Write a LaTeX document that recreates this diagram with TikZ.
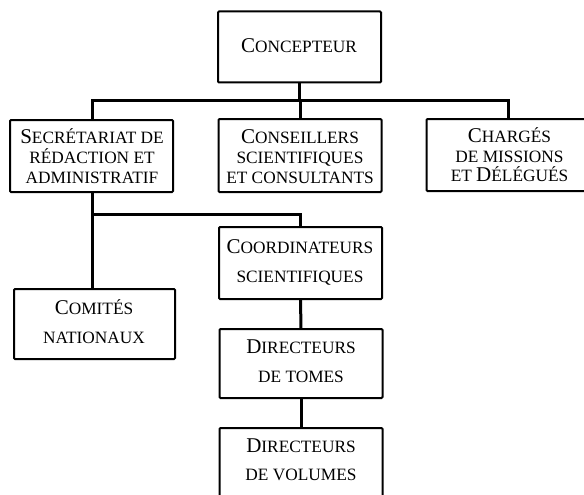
\documentclass[tikz,border=0pt]{standalone}
\usepackage{fontspec}
\setmainfont{Liberation Serif}
\newcommand\Bc[1]{{\fontsize{21}{20}\selectfont #1}}
\tikzset{
  box/.style={draw, line width=2pt, rounded corners=1pt, minimum width=163pt, minimum height=71pt, inner sep=0pt, outer sep=0pt},
  txt/.style={anchor=base, inner sep=0pt, font=\fontsize{17.3}{20}\selectfont},
  link/.style={line width=3pt},
}
\begin{document}
\begin{tikzpicture}[x=1pt,y=-1pt]
\useasboundingbox (0,0) rectangle (584,495);
\clip (0,0) rectangle (584,495);
\fill[white] (0,0) rectangle (584,495);

% boxes
\node[box] (concepteur) at (299.5,47) {};
\node[box, minimum height=72pt] (secr) at (91.5,156) {};
\node[box, minimum height=73pt] (cons) at (300,155.5) {};
\node[box, minimum height=72pt] (charg) at (508,155) {};
\node[box, minimum height=72pt] (coord) at (300.5,263) {};
\node[box, minimum width=161pt, minimum height=70pt] (comites) at (94.5,324) {};
\node[box, minimum height=69pt] (tomes) at (301,363.5) {};
\node[box, minimum height=70pt] (volumes) at (301,463) {};

% texts
\node[txt] (t-conc) at (299,53) {\Bc{C}ONCEPTEUR};
\node[txt] (t-secr1) at (92,143) {\Bc{S}ECRÉTARIAT DE};
\node[txt] (t-secr2) at (92,163) {RÉDACTION ET};
\node[txt] (t-secr3) at (92,183) {ADMINISTRATIF};
\node[txt] (t-cons1) at (300,143) {\Bc{C}ONSEILLERS};
\node[txt] (t-cons2) at (300,163) {SCIENTIFIQUES};
\node[txt] (t-cons3) at (300,183) {ET CONSULTANTS};
\node[txt] (t-charg1) at (509.5,142) {\Bc{C}HARGÉS};
\node[txt] (t-charg2) at (509.5,162) {DE MISSIONS};
\node[txt] (t-charg3) at (509.5,181) {ET \Bc{D}ÉLÉGUÉS};
\node[txt] (t-coord1) at (300,253) {\Bc{C}OORDINATEURS};
\node[txt] (t-coord2) at (300,282) {SCIENTIFIQUES};
\node[txt] (t-com1) at (94,314) {\Bc{C}OMITÉS};
\node[txt] (t-com2) at (94,343) {NATIONAUX};
\node[txt] (t-tom1) at (301,353) {\Bc{D}IRECTEURS};
\node[txt] (t-tom2) at (301,382) {DE TOMES};
\node[txt] (t-vol1) at (301,452) {\Bc{D}IRECTEURS};
\node[txt] (t-vol2) at (301,480) {DE VOLUMES};

% connectors
\coordinate (bus1) at (300,101);
\coordinate (bus2) at (92,214);
\draw[link] (concepteur.south) -- (concepteur.south |- bus1);
\draw[link] (secr.north -| bus2) |- (charg.north |- bus1) -- (charg.north);
\draw[link] (cons.north) -- (cons.north |- bus1);
\draw[link] (secr.south -| bus2) -- (comites.north -| bus2);
\draw[link] (bus2) -| (coord.north);
\draw[link] (coord.south) -- (tomes.north);
\draw[link] (tomes.south) -- (volumes.north);
\end{tikzpicture}
\end{document}
